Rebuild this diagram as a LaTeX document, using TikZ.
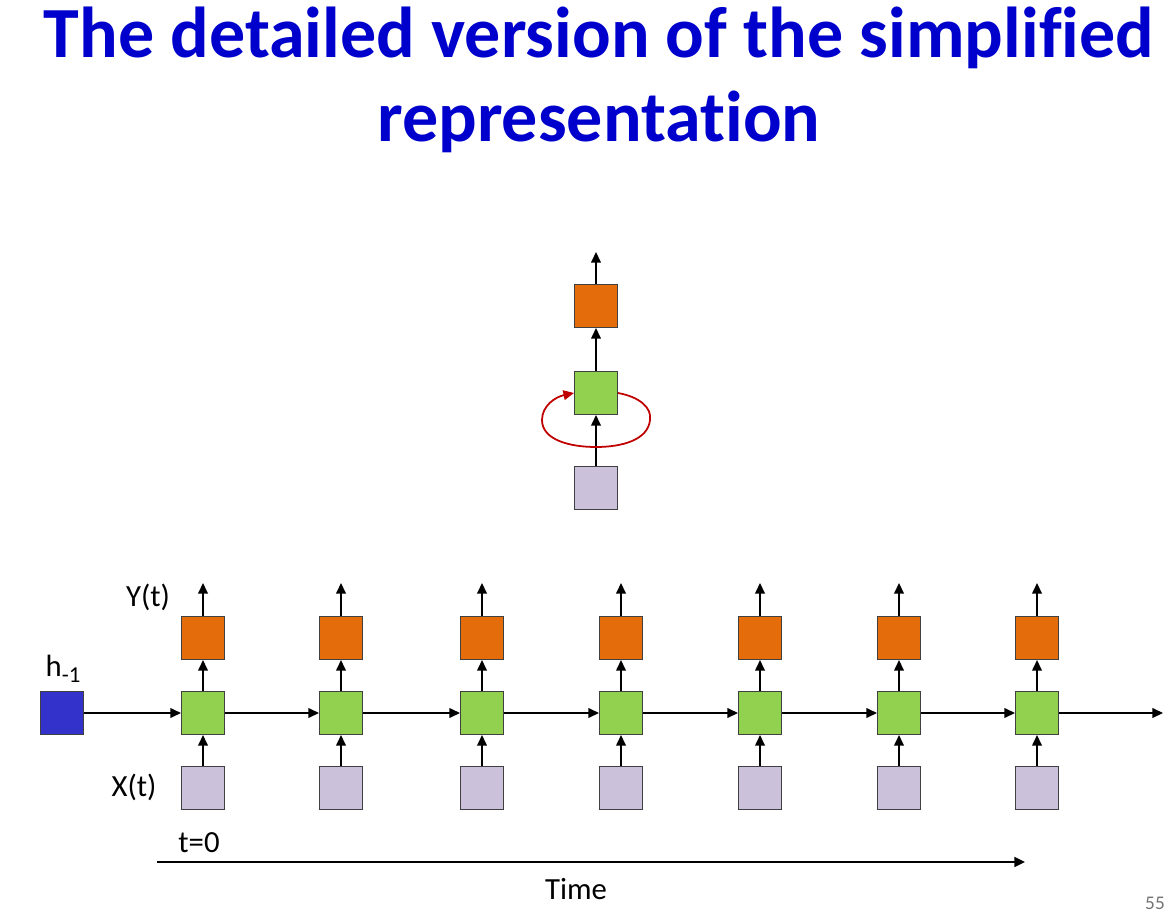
\documentclass[tikz,border=0pt]{standalone}
\usepackage{fontspec}
\setmainfont[RawFeature=-liga]{Carlito}
\usetikzlibrary{arrows.meta}

\definecolor{titleblue}{HTML}{0000CC}
\definecolor{outorange}{HTML}{E46C0A}
\definecolor{hidgreen}{HTML}{92D050}
\definecolor{inlav}{HTML}{CCC1DA}
\definecolor{initblue}{HTML}{3333CC}
\definecolor{loopred}{HTML}{C00000}

\tikzset{
    unit/.style={rectangle, draw=black!75, line width=0.6pt, minimum size=0.86cm, inner sep=0pt},
    outbox/.style={unit, fill=outorange},
    hidbox/.style={unit, fill=hidgreen},
    inbox/.style={unit, fill=inlav},
    initbox/.style={unit, fill=initblue},
    arr/.style={-{Triangle[length=6pt, width=5.5pt]}, line width=0.8pt},
    lbl/.style={font=\fontsize{17.5}{20}\selectfont, inner sep=0pt},
}

\begin{document}
\begin{tikzpicture}[x=0.02cm, y=-0.02cm]
        \useasboundingbox (0,0) rectangle (1175,912);

        % Title
        \node[font=\fontsize{41}{48}\selectfont\bfseries, text=titleblue, align=center] (title) at (599,80)
            {The detailed version of the simplified\\representation};

        % Folded network
        \node[outbox]  at (596,306)  (yc) {};
        \node[hidbox]  at (596,393)  (hc) {};
        \node[inbox]   at (596,488)  (xc) {};
        \coordinate (oc) at (596,252);

        \draw[arr]  (xc) -- (hc);
        \draw[arr]  (hc) -- (yc);
        \draw[arr]  (yc) -- (oc);
        \draw[-{Triangle[length=6pt, width=5.5pt]}, loopred, line width=1pt]
            (hc.east) .. controls (640,397) and (652,408) .. (650,420)
                      .. controls (648,440) and (622,447) .. (596,447)
                      .. controls (570,447) and (542,440) .. (542,420)
                      .. controls (542,406) and (555,397) .. (hc.west);

        % Unfolded network
        \node[initbox] at (62,713)   (h0) {};
        \node[lbl]     at (63,669)   (h0lbl) {h\raisebox{-0.45ex}{\fontsize{13}{13}\selectfont -1}};

        \node[outbox]  at (203,638)  (y1) {};
        \node[outbox]  at (341,638)  (y2) {};
        \node[outbox]  at (482,638)  (y3) {};
        \node[outbox]  at (621,638)  (y4) {};
        \node[outbox]  at (760,638)  (y5) {};
        \node[outbox]  at (899,638)  (y6) {};
        \node[outbox]  at (1037,638) (y7) {};

        \node[hidbox]  at (203,713)  (h1) {};
        \node[hidbox]  at (341,713)  (h2) {};
        \node[hidbox]  at (482,713)  (h3) {};
        \node[hidbox]  at (621,713)  (h4) {};
        \node[hidbox]  at (760,713)  (h5) {};
        \node[hidbox]  at (899,713)  (h6) {};
        \node[hidbox]  at (1037,713) (h7) {};

        \node[inbox]   at (203,788)  (x1) {};
        \node[inbox]   at (341,788)  (x2) {};
        \node[inbox]   at (482,788)  (x3) {};
        \node[inbox]   at (621,788)  (x4) {};
        \node[inbox]   at (760,788)  (x5) {};
        \node[inbox]   at (899,788)  (x6) {};
        \node[inbox]   at (1037,788) (x7) {};

        \coordinate (o1) at (203,583);
        \coordinate (o2) at (341,583);
        \coordinate (o3) at (482,583);
        \coordinate (o4) at (621,583);
        \coordinate (o5) at (760,583);
        \coordinate (o6) at (899,583);
        \coordinate (o7) at (1037,583);
        \coordinate (hend) at (1163,713);

        \node[lbl] at (148,597) (ylbl) {Y(t)};
        \node[lbl] at (134,787) (xlbl) {X(t)};

        \draw[arr]  (x1) -- (h1);
        \draw[arr]  (x2) -- (h2);
        \draw[arr]  (x3) -- (h3);
        \draw[arr]  (x4) -- (h4);
        \draw[arr]  (x5) -- (h5);
        \draw[arr]  (x6) -- (h6);
        \draw[arr]  (x7) -- (h7);

        \draw[arr]  (h1) -- (y1);
        \draw[arr]  (h2) -- (y2);
        \draw[arr]  (h3) -- (y3);
        \draw[arr]  (h4) -- (y4);
        \draw[arr]  (h5) -- (y5);
        \draw[arr]  (h6) -- (y6);
        \draw[arr]  (h7) -- (y7);

        \draw[arr]  (y1) -- (o1);
        \draw[arr]  (y2) -- (o2);
        \draw[arr]  (y3) -- (o3);
        \draw[arr]  (y4) -- (o4);
        \draw[arr]  (y5) -- (o5);
        \draw[arr]  (y6) -- (o6);
        \draw[arr]  (y7) -- (o7);

        \draw[arr]  (h0) -- (h1);
        \draw[arr]  (h1) -- (h2);
        \draw[arr]  (h2) -- (h3);
        \draw[arr]  (h3) -- (h4);
        \draw[arr]  (h4) -- (h5);
        \draw[arr]  (h5) -- (h6);
        \draw[arr]  (h6) -- (h7);
        \draw[arr]  (h7) -- (hend);

        % Time axis
        \coordinate (tstart) at (157,862);
        \coordinate (tend)   at (1025,862);
        \draw[arr, line width=1.4pt]  (tstart) -- (tend);
        \node[lbl] at (199,843) (t0lbl) {t=0};
        \node[lbl] at (576,889) (timelbl) {Time};

        % Page number
        \node[font=\fontsize{11}{12}\selectfont, text=black!55, inner sep=0pt] at (1155,903) (page) {55};
\end{tikzpicture}
\end{document}
